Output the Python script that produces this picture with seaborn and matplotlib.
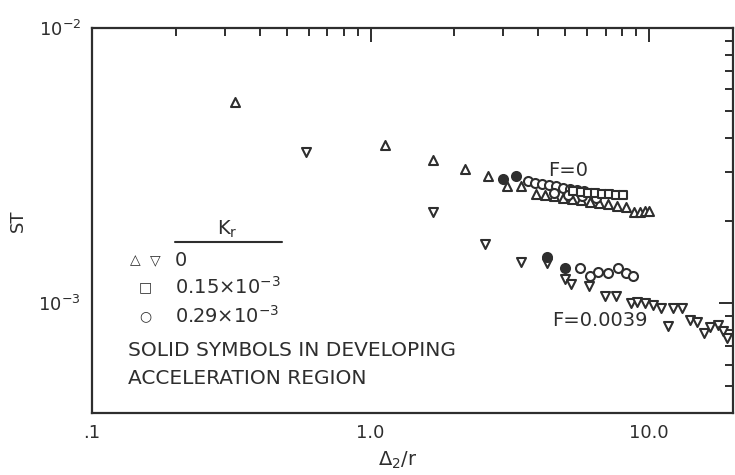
import matplotlib
matplotlib.use("Agg")
import matplotlib.pyplot as plt
import matplotlib.ticker as mticker
import seaborn as sns
import pandas as pd

# ---------------- data ----------------
# F = 0, K_r = 0 (open up-triangles)
f0_tri_x = [0.325, 1.13, 1.68, 2.18, 2.63, 3.10, 3.46, 3.91, 4.22, 4.54, 4.89, 5.27,
            5.68, 6.11, 6.59, 7.10, 7.64, 8.23, 8.80, 9.25, 9.64, 10.0]
f0_tri_y = [5.38e-3, 3.75e-3, 3.31e-3, 3.07e-3, 2.90e-3, 2.67e-3, 2.67e-3, 2.49e-3,
            2.47e-3, 2.45e-3, 2.41e-3, 2.39e-3, 2.37e-3, 2.33e-3, 2.31e-3, 2.29e-3,
            2.25e-3, 2.23e-3, 2.14e-3, 2.14e-3, 2.16e-3, 2.16e-3]
# F = 0, K_r = 0.15e-3 (open squares)
f0_sq_x = [5.31, 5.68, 6.01, 6.37, 6.75, 7.15, 7.58, 8.03]
f0_sq_y = [2.55e-3, 2.53e-3, 2.51e-3, 2.51e-3, 2.49e-3, 2.49e-3, 2.47e-3, 2.47e-3]
# F = 0, K_r = 0.29e-3 (open circles)
f0_circ_x = [3.66, 3.88, 4.11, 4.36, 4.62, 4.89, 5.18, 5.49, 5.82, 4.54, 5.10, 5.72, 6.43]
f0_circ_y = [2.78e-3, 2.73e-3, 2.71e-3, 2.69e-3, 2.66e-3, 2.62e-3, 2.60e-3, 2.58e-3,
             2.55e-3, 2.51e-3, 2.47e-3, 2.45e-3, 2.41e-3]
# F = 0, developing acceleration region (solid circles)
f0_solid_x = [2.98, 3.34]
f0_solid_y = [2.82e-3, 2.90e-3]

# F = 0.0039, K_r = 0 (open down-triangles)
f39_tri_x = [0.584, 1.67, 2.57, 3.46, 4.29, 4.97, 5.23, 6.06, 6.92, 7.58, 8.58, 9.02,
             9.64, 10.3, 11.0, 11.65, 12.15, 13.1, 14.0, 14.9, 15.8, 16.6, 17.6, 18.4, 19.1]
f39_tri_y = [3.54e-3, 2.14e-3, 1.64e-3, 1.41e-3, 1.40e-3, 1.23e-3, 1.18e-3, 1.16e-3,
             1.06e-3, 1.06e-3, 1.00e-3, 1.01e-3, 1.00e-3, 0.983e-3, 0.959e-3, 0.825e-3,
             0.959e-3, 0.959e-3, 0.867e-3, 0.853e-3, 0.784e-3, 0.818e-3, 0.832e-3,
             0.797e-3, 0.746e-3]
# F = 0.0039, K_r = 0.29e-3 (open circles)
f39_circ_x = [5.63, 6.11, 6.53, 7.10, 7.71, 8.23, 8.73]
f39_circ_y = [1.35e-3, 1.26e-3, 1.30e-3, 1.29e-3, 1.34e-3, 1.29e-3, 1.26e-3]
# F = 0.0039, developing acceleration region (solid circles)
f39_solid_x = [4.29, 4.97]
f39_solid_y = [1.47e-3, 1.34e-3]

x_ticks = [0.1, 1.0, 10.0]
x_ticklabels = [".1", "1.0", "10.0"]
y_ticks = [1e-3, 1e-2]
y_ticklabels = [r"$\mathregular{10^{-3}}$", r"$\mathregular{10^{-2}}$"]

# ---------------- figure ----------------
sns.set_style("white")
plt.rcParams["font.family"] = ["DejaVu Sans"]
INK = "#2e2e2e"

fig = plt.figure(figsize=(7.35, 4.75), dpi=100)
ax = fig.add_axes([92 / 735, 1 - 413 / 475, (733 - 92) / 735, (413 - 28) / 475])

def draw(x, y, marker, filled=False, s=42):
    df = pd.DataFrame({"x": x, "y": y})
    sns.scatterplot(data=df, x="x", y="y", ax=ax, marker=marker, s=s,
                    color=INK if filled else "white", edgecolor=INK,
                    linewidth=1.5, zorder=3, legend=False)

draw(f0_tri_x, f0_tri_y, "^")
draw(f0_circ_x, f0_circ_y, "o")
draw(f0_sq_x, f0_sq_y, "s", s=38)
draw(f0_solid_x, f0_solid_y, "o", filled=True)
draw(f39_tri_x, f39_tri_y, "v")
draw(f39_circ_x, f39_circ_y, "o")
draw(f39_solid_x, f39_solid_y, "o", filled=True)

ax.set_xscale("log")
ax.set_yscale("log")
ax.set_xlim(0.1, 20)
ax.set_ylim(4e-4, 1e-2)

ax.xaxis.set_major_locator(mticker.FixedLocator(x_ticks))
ax.xaxis.set_major_formatter(mticker.FixedFormatter(x_ticklabels))
ax.yaxis.set_major_locator(mticker.FixedLocator(y_ticks))
ax.yaxis.set_major_formatter(mticker.FixedFormatter(y_ticklabels))
ax.xaxis.set_minor_locator(mticker.LogLocator(base=10, subs=range(2, 10)))
ax.yaxis.set_minor_locator(mticker.LogLocator(base=10, subs=range(2, 10)))
ax.xaxis.set_minor_formatter(mticker.NullFormatter())
ax.yaxis.set_minor_formatter(mticker.NullFormatter())

ax.tick_params(which="both", direction="in", top=True, right=True,
               color=INK, width=1.4, labelcolor=INK, labelsize=13)
ax.tick_params(which="major", length=10, pad=8)
ax.tick_params(which="minor", length=6)
for sp in ax.spines.values():
    sp.set_color(INK)
    sp.set_linewidth(1.6)

ax.set_xlabel(r"$\mathregular{\Delta_2/r}$", fontsize=14, color=INK, va="center")
ax.set_ylabel("ST", fontsize=13, color=INK)
ax.xaxis.set_label_coords((398 - 92) / 641, (413 - 460) / 385)
ax.yaxis.set_label_coords((27 - 92) / 641, 0.5)

# annotations in the plot
ax.text(5.1, 3.04e-3, "F=0", fontsize=14, color=INK, ha="center", va="center")
ax.text(6.64, 0.867e-3, "F=0.0039", fontsize=14, color=INK, ha="center", va="center")

def P(px, py):
    return ((px - 92) / 641, (413 - py) / 385)

tr = ax.transAxes
ax.text(*P(227, 229), r"$\mathregular{K_r}$", transform=tr, fontsize=14, color=INK,
        ha="center", va="center")
l0, l1 = P(175, 242), P(282, 242)
ax.plot([l0[0], l1[0]], [l0[1], l1[1]], transform=tr, color=INK, lw=1.5)
ax.text(*P(135, 260), "\u25b3", transform=tr, fontsize=10, color=INK, ha="center", va="center")
ax.text(*P(155, 260), "\u25bd", transform=tr, fontsize=10, color=INK, ha="center", va="center")
ax.text(*P(175, 260), "0", transform=tr, fontsize=14, color=INK, ha="left", va="center")
ax.text(*P(145, 287), "\u25a1", transform=tr, fontsize=10, color=INK, ha="center", va="center")
ax.text(*P(175, 287), r"0.15$\times$10$^{-3}$", transform=tr, fontsize=14, color=INK,
        ha="left", va="center")
ax.text(*P(145, 316), "\u25cb", transform=tr, fontsize=10, color=INK, ha="center", va="center")
ax.text(*P(175, 316), r"0.29$\times$10$^{-3}$", transform=tr, fontsize=14, color=INK,
        ha="left", va="center")
ax.text(*P(128, 350), "SOLID SYMBOLS IN DEVELOPING", transform=tr, fontsize=14.5,
        color=INK, ha="left", va="center")
ax.text(*P(128, 378), "ACCELERATION REGION", transform=tr, fontsize=14.5,
        color=INK, ha="left", va="center")

fig.savefig("out.png", dpi=100, facecolor="white")
